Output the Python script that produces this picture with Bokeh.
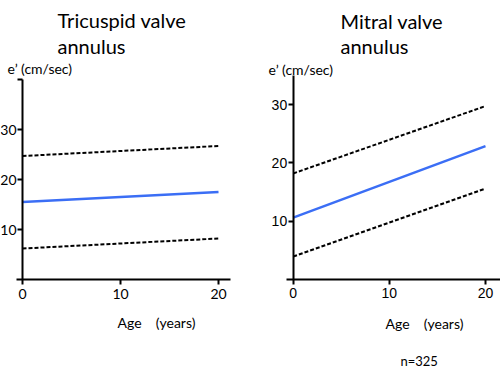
from bokeh.plotting import figure
from bokeh.layouts import row
from bokeh.models import Label, FixedTicker, Range1d
from bokeh.embed import file_html
from bokeh.resources import INLINE

# ---- data ----
age = [0, 20]
tv_mean = [15.5, 17.5]
tv_upper = [24.7, 26.7]
tv_lower = [6.2, 8.2]

mv_mean = [10.6, 22.9]
mv_upper = [18.2, 29.8]
mv_lower = [3.9, 15.6]

x_ticks = [0, 10, 20]
tv_y_ticks = [10, 20, 30, 40]
mv_y_ticks = [10, 20, 30]

BLUE = "#3b6ef5"
FONT = "Lato"
W, H = 250, 367


def base_fig(xr, yr, xb, yb, tick_font):
    p = figure(width=W, height=H, x_range=Range1d(*xr), y_range=Range1d(*yr),
               output_backend="svg", toolbar_location=None, title=None,
               min_border=0)
    p.outline_line_color = None
    p.xgrid.visible = False
    p.ygrid.visible = False
    p.background_fill_color = "white"
    p.border_fill_color = "white"
    for ax in (p.xaxis[0], p.yaxis[0]):
        ax.axis_line_width = 2
        ax.axis_line_color = "black"
        ax.major_tick_line_width = 2
        ax.major_tick_line_color = "black"
        ax.major_tick_out = 5
        ax.major_tick_in = 0
        ax.minor_tick_line_color = None
        ax.major_label_text_font = tick_font
        ax.major_label_text_font_size = "14px"
        ax.major_label_text_color = "black"
        ax.fixed_location = 0
    p.xaxis[0].bounds = xb
    p.yaxis[0].bounds = yb
    p.yaxis[0].major_label_standoff = 1
    p.xaxis[0].major_label_standoff = 4
    p.xaxis[0].ticker = FixedTicker(ticks=x_ticks)
    return p


def add_lines(p, mean, upper, lower):
    p.line(age, upper, line_color="black", line_width=2, line_dash="4 2")
    p.line(age, lower, line_color="black", line_width=2, line_dash="4 2")
    p.line(age, mean, line_color=BLUE, line_width=2.5)


def lab(p, text, x, y_top, size, font=FONT):
    # y_top: baseline position measured from the top of the canvas
    p.add_layout(Label(x=x, y=H - y_top, x_units="screen", y_units="screen",
                       text=text, text_font=font, text_font_size=size,
                       text_color="black", text_baseline="alphabetic"))


# ---- left: tricuspid ----
p1 = base_fig((-22 / 9.8, 228 / 9.8), (-17.6, 55.8), (-0.6, 21.2), (0, 40), FONT)
p1.yaxis[0].ticker = FixedTicker(ticks=tv_y_ticks)
p1.yaxis[0].major_label_overrides = {40: ""}
add_lines(p1, tv_mean, tv_upper, tv_lower)
lab(p1, "Tricuspid valve", 57, 19, "20px")
lab(p1, "annulus", 57, 45, "20px")
lab(p1, "e\u2019 (cm/sec)", 7, 68, "14px")
lab(p1, "Age\u00a0\u00a0\u00a0\u00a0(years)", 117, 322, "14px")

# ---- right: mitral ----
p2 = base_fig((-4.44, 21.56), (-15.2, 47.97), (-0.7, 21.56), (0, 35), "Liberation Sans")
p2.yaxis[0].ticker = FixedTicker(ticks=mv_y_ticks)
add_lines(p2, mv_mean, mv_upper, mv_lower)
lab(p2, "Mitral valve", 90, 20, "20px")
lab(p2, "annulus", 90, 45, "20px")
lab(p2, "e\u2019 (cm/sec)", 18, 69, "14px")
lab(p2, "Age\u00a0\u00a0\u00a0\u00a0(years)", 135, 323, "14px")
lab(p2, "n=325", 150, 360, "13px")

layout = row(p1, p2)
open("out.html", "w").write(file_html(layout, INLINE))
